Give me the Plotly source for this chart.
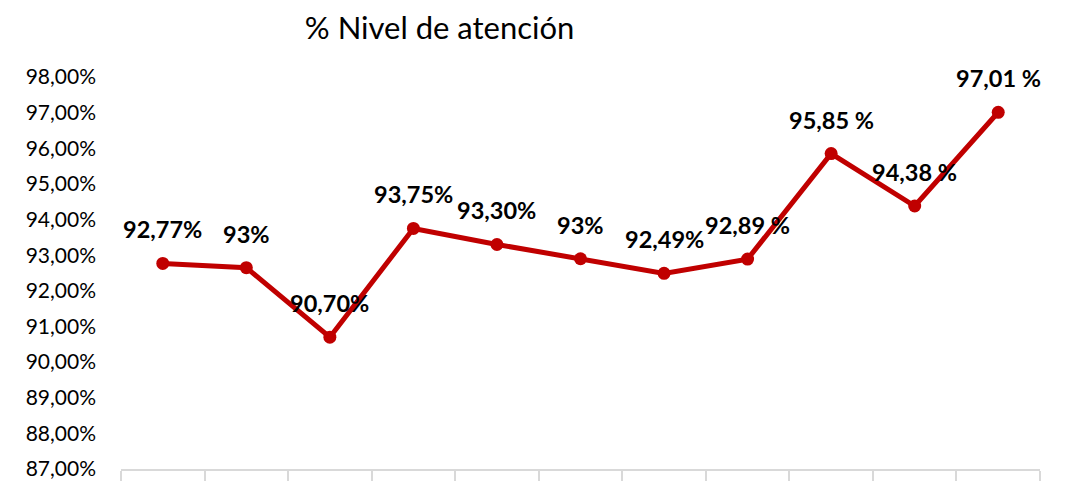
import plotly.graph_objects as go

categories = ["P1", "P2", "P3", "P4", "P5", "P6", "P7", "P8", "P9", "P10", "P11"]
values = [92.77, 92.65, 90.70, 93.75, 93.30, 92.90, 92.49, 92.89, 95.85, 94.38, 97.01]
labels = ["92,77%", "93%", "90,70%", "93,75%", "93,30%", "93%", "92,49%", "92,89 %", "95,85 %", "94,38 %", "97,01 %"]
y_ticks = [87, 88, 89, 90, 91, 92, 93, 94, 95, 96, 97, 98]
y_tick_text = [f"{v:.2f}".replace(".", ",") + "%" for v in y_ticks]

RED = "#C00000"
FONT = "Lato"

fig = go.Figure()
fig.add_trace(go.Scatter(
    x=categories, y=values, mode="lines+markers",
    line=dict(color=RED, width=5),
    marker=dict(color=RED, size=13),
    hoverinfo="skip", showlegend=False,
))

for c, v, t in zip(categories, values, labels):
    fig.add_annotation(x=c, y=v, text="<b>" + t + "</b>", showarrow=False,
                       yshift=34, font=dict(family=FONT, size=23.5, color="#000000"))

fig.update_layout(
    width=1071, height=481,
    margin=dict(l=113, r=39, t=69, b=20, autoexpand=False),
    paper_bgcolor="white", plot_bgcolor="white",
    font=dict(family=FONT, color="#000000"),
    title=dict(text="% Nivel de atención", x=0.403, xanchor="center", y=0.958, yanchor="middle",
               font=dict(family=FONT, size=31, color="#000000")),
)
fig.update_xaxes(
    type="category", showticklabels=False, showgrid=False, automargin=False,
    showline=True, linecolor="#D9D9D9", linewidth=2,
    ticks="outside", tickson="boundaries", ticklen=20, tickcolor="#D9D9D9", tickwidth=2,
    range=[-0.5, len(categories) - 0.5],
)
fig.update_yaxes(
    range=[87, 98], tickmode="array", tickvals=y_ticks, ticktext=y_tick_text,
    showgrid=False, zeroline=False, showline=False, automargin=False,
    tickfont=dict(family=FONT, size=21, color="#000000"), ticklabelstandoff=24,
)

fig.write_html("out.html")
